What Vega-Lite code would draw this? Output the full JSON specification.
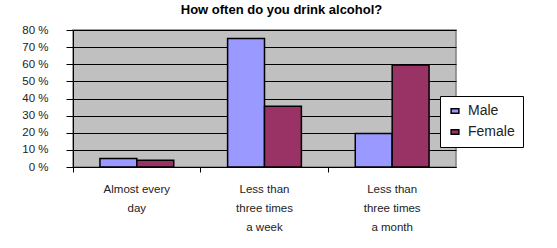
{
  "$schema": "https://vega.github.io/schema/vega-lite/v6.json",
  "autosize": {"type": "none"},
  "width": 383,
  "height": 137,
  "padding": {"left": 73, "top": 30, "right": 101, "bottom": 81},
  "background": "white",
  "title": {
    "text": "How often do you drink alcohol?",
    "font": "Liberation Sans",
    "fontSize": 13,
    "fontWeight": "bold",
    "color": "black",
    "anchor": "middle",
    "frame": "group",
    "dx": 17,
    "offset": 7
  },
  "config": {
    "view": {"fill": "#C0C0C0", "stroke": "#808080", "strokeWidth": 1.5},
    "font": "Liberation Sans"
  },
  "data": {
    "values": [
      {"freq": "Almost every day", "sex": "Male", "pct": 0.05},
      {"freq": "Almost every day", "sex": "Female", "pct": 0.04},
      {"freq": "Less than three times a week", "sex": "Male", "pct": 0.75},
      {"freq": "Less than three times a week", "sex": "Female", "pct": 0.355},
      {"freq": "Less than three times a month", "sex": "Male", "pct": 0.195},
      {"freq": "Less than three times a month", "sex": "Female", "pct": 0.595}
    ]
  },
  "mark": {"type": "bar", "stroke": "black", "strokeWidth": 1.5},
  "encoding": {
    "x": {
      "field": "freq",
      "type": "nominal",
      "sort": ["Almost every day", "Less than three times a week", "Less than three times a month"],
      "scale": {"paddingInner": 0, "paddingOuter": 0},
      "axis": {
        "title": null,
        "labelAngle": 0,
        "bandPosition": 0,
        "domainColor": "black",
        "tickColor": "black",
        "tickSize": 5,
        "labelPadding": 11,
        "labelFontSize": 11.5,
        "labelColor": "#222222",
        "labelLineHeight": 19,
        "labelExpr": "datum.value == 'Almost every day' ? ['Almost every', 'day'] : datum.value == 'Less than three times a week' ? ['Less than', 'three times', 'a week'] : ['Less than', 'three times', 'a month']"
      }
    },
    "xOffset": {
      "field": "sex",
      "type": "nominal",
      "sort": ["Male", "Female"],
      "scale": {"paddingInner": 0, "paddingOuter": 0.73}
    },
    "y": {
      "field": "pct",
      "type": "quantitative",
      "scale": {"domain": [0, 0.8], "nice": false},
      "axis": {
        "title": null,
        "values": [0, 0.1, 0.2, 0.3, 0.4, 0.5, 0.6, 0.7, 0.8],
        "labelExpr": "replace(format(datum.value, '.0%'), '%', ' %')",
        "gridColor": "black",
        "gridOpacity": 1,
        "domainColor": "black",
        "tickColor": "black",
        "tickSize": 7,
        "labelPadding": 18,
        "labelFontSize": 11.5,
        "labelColor": "#222222"
      }
    },
    "color": {
      "field": "sex",
      "type": "nominal",
      "sort": ["Male", "Female"],
      "scale": {"domain": ["Male", "Female"], "range": ["#9999FF", "#993366"]},
      "legend": {
        "title": null,
        "orient": "none",
        "legendX": 367,
        "legendY": 66,
        "fillColor": "white",
        "strokeColor": "black",
        "padding": 8,
        "symbolType": "M-1,-0.6L1,-0.6L1,0.6L-1,0.6Z",
        "symbolSize": 60,
        "symbolStrokeColor": "black",
        "symbolStrokeWidth": 1.5,
        "symbolOpacity": 1,
        "labelFontSize": 14,
        "labelColor": "#222222",
        "rowPadding": 7,
        "labelOffset": 6
      }
    }
  }
}
